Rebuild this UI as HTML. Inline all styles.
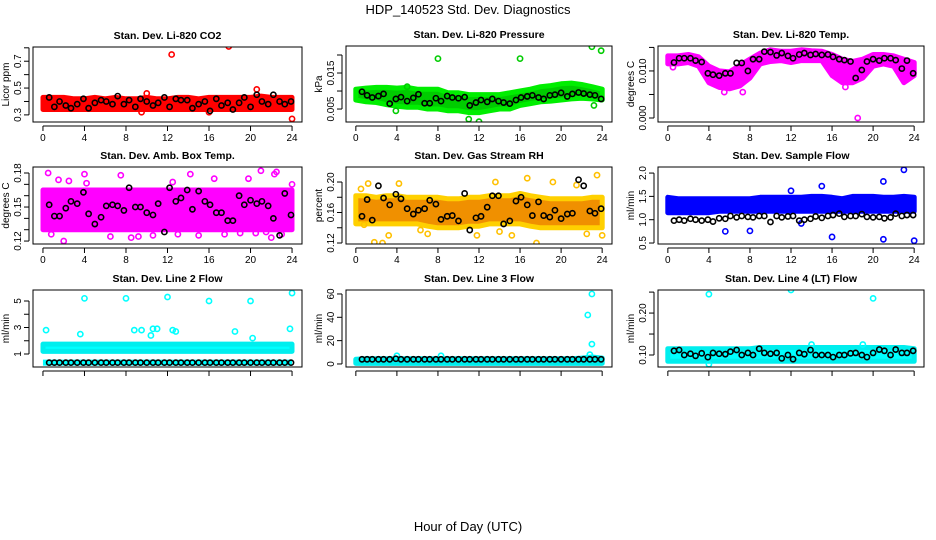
<!DOCTYPE html>
<html><head><meta charset="utf-8"><style>
body{margin:0;background:#fff}
svg{display:block;font-family:"Liberation Sans",sans-serif}
</style></head><body>
<svg id="c" width="936" height="540" viewBox="0 0 936 540">
<text x="468" y="14" text-anchor="middle" font-size="13">HDP_140523  Std. Dev. Diagnostics</text>
<text x="468" y="531" text-anchor="middle" font-size="13">Hour of Day (UTC)</text>
</svg>
<script>
// shared hours for black (hourly-average) points
const blackHours=[0.6,1.1,1.6,2.2,2.7,3.3,3.9,4.4,5.0,5.6,6.1,6.7,7.2,7.8,8.3,8.9,9.4,10,10.6,11.1,11.7,12.2,12.8,13.3,13.9,14.4,15,15.6,16.1,16.7,17.2,17.8,18.3,18.9,19.4,20,20.6,21.1,21.7,22.2,22.8,23.3,23.9];
const bandHours=[0,1,2,3,4,5,6,7,8,9,10,11,12,13,14,15,16,17,18,19,20,21,22,23,24];
const xTicks=[0,4,8,12,16,20,24];
// P1 CO2
const co2Low=[0.34,0.34,0.34,0.34,0.34,0.34,0.34,0.34,0.34,0.34,0.34,0.34,0.34,0.34,0.34,0.34,0.34,0.34,0.34,0.34,0.34,0.34,0.34,0.34,0.34];
const co2High=[0.43,0.43,0.43,0.42,0.42,0.43,0.42,0.43,0.42,0.42,0.43,0.42,0.42,0.43,0.43,0.42,0.43,0.43,0.43,0.43,0.43,0.44,0.43,0.43,0.43];
const co2Black=[0.43,0.36,0.40,0.37,0.35,0.38,0.42,0.35,0.39,0.41,0.40,0.38,0.44,0.38,0.41,0.36,0.42,0.40,0.37,0.39,0.43,0.36,0.42,0.41,0.41,0.35,0.38,0.40,0.33,0.42,0.37,0.39,0.34,0.39,0.43,0.36,0.45,0.40,0.38,0.45,0.40,0.38,0.40];
const co2OutX=[12.4,17.9,24,20.6,10,9.5,16];
const co2OutY=[0.75,0.81,0.27,0.49,0.46,0.32,0.32];
// P2 pressure
const prLow=[0.0075,0.007,0.0068,0.0062,0.0058,0.0055,0.0055,0.005,0.005,0.0045,0.0045,0.004,0.004,0.0045,0.005,0.005,0.006,0.0065,0.007,0.0072,0.0075,0.0078,0.008,0.0078,0.0075];
const prHigh=[0.0105,0.0108,0.011,0.011,0.0108,0.011,0.0105,0.0105,0.0105,0.0095,0.0095,0.009,0.009,0.009,0.009,0.0095,0.01,0.0105,0.0112,0.0115,0.012,0.0122,0.0118,0.0112,0.0105];
const prBlack=[0.0098,0.0088,0.0082,0.0086,0.0092,0.0065,0.0078,0.0083,0.0072,0.0081,0.0091,0.0066,0.0066,0.008,0.0072,0.0086,0.0082,0.0080,0.0083,0.0060,0.0068,0.0075,0.0070,0.0078,0.0072,0.0068,0.0065,0.0075,0.0082,0.0085,0.0088,0.0082,0.0078,0.0088,0.009,0.0095,0.0085,0.0092,0.0096,0.0093,0.009,0.0088,0.0078];
const prOutX=[8,16,23,23.9,11,12,5,23.2,3.9];
const prOutY=[0.019,0.019,0.0223,0.0212,0.0022,0.0015,0.0112,0.0060,0.0045];
// P3 Li-820 temp
const tLow=[0.0115,0.0115,0.0118,0.011,0.0075,0.0065,0.0062,0.0068,0.0085,0.0115,0.012,0.0122,0.0118,0.0122,0.0122,0.0122,0.009,0.0075,0.0075,0.0085,0.011,0.0115,0.011,0.0075,0.009];
const tHigh=[0.0132,0.0132,0.0135,0.013,0.011,0.01,0.0098,0.0112,0.0125,0.0138,0.0145,0.0142,0.0142,0.0145,0.0143,0.0142,0.0135,0.0125,0.012,0.0125,0.0135,0.0135,0.0132,0.0125,0.0118];
const tBlack=[0.0118,0.0127,0.0127,0.0127,0.0122,0.0119,0.0095,0.0092,0.0090,0.0095,0.0095,0.0117,0.0117,0.0100,0.0125,0.0125,0.0141,0.0140,0.0133,0.0138,0.0132,0.0127,0.0135,0.0138,0.0134,0.0136,0.0134,0.0135,0.0130,0.0125,0.0123,0.0120,0.0085,0.0102,0.0120,0.0125,0.0122,0.0127,0.0127,0.0123,0.0105,0.0122,0.0095];
const tOutX=[18.5,17.3,0.5,5.5,7.3];
const tOutY=[0.0,0.0066,0.0108,0.0055,0.0055];
// P4 amb box temp
const aLow=[0.13,0.13,0.13,0.13,0.13,0.13,0.13,0.13,0.13,0.13,0.13,0.13,0.13,0.13,0.13,0.13,0.13,0.13,0.13,0.13,0.13,0.13,0.13,0.13,0.13];
const aHigh=[0.165,0.165,0.165,0.165,0.165,0.165,0.165,0.165,0.165,0.165,0.165,0.165,0.165,0.165,0.165,0.165,0.165,0.165,0.165,0.165,0.165,0.165,0.165,0.165,0.165];
const aBlack=[0.152,0.142,0.142,0.149,0.155,0.153,0.163,0.144,0.135,0.141,0.151,0.152,0.151,0.147,0.167,0.150,0.150,0.145,0.143,0.153,0.128,0.167,0.155,0.158,0.165,0.148,0.164,0.155,0.152,0.145,0.145,0.138,0.138,0.160,0.152,0.156,0.153,0.155,0.151,0.140,0.125,0.162,0.143];
const aOutX=[0.5,1.5,2.5,4,4.2,7.5,12.5,14.2,16.5,19.8,21,22.3,22.5,2,0.8,6.5,8.5,9.2,13,15,17.5,19,21.5,23,24,20.5,10.6,22];
const aOutY=[0.180,0.174,0.173,0.179,0.171,0.178,0.172,0.179,0.175,0.175,0.182,0.179,0.181,0.120,0.126,0.124,0.123,0.124,0.126,0.125,0.126,0.127,0.128,0.126,0.170,0.127,0.125,0.123];
// P5 gas stream RH
const rLow=[0.145,0.145,0.145,0.145,0.145,0.145,0.145,0.142,0.14,0.14,0.14,0.142,0.142,0.145,0.145,0.145,0.145,0.142,0.14,0.14,0.14,0.14,0.14,0.14,0.14];
const rHigh=[0.182,0.182,0.18,0.182,0.182,0.18,0.18,0.18,0.18,0.178,0.178,0.18,0.18,0.182,0.182,0.182,0.185,0.182,0.18,0.178,0.178,0.178,0.178,0.18,0.18];
const rBlack=[0.155,0.177,0.150,0.195,0.179,0.170,0.184,0.178,0.165,0.158,0.163,0.165,0.176,0.171,0.151,0.155,0.156,0.149,0.185,0.137,0.153,0.155,0.167,0.182,0.182,0.145,0.149,0.175,0.180,0.170,0.156,0.174,0.156,0.154,0.163,0.152,0.158,0.159,0.203,0.195,0.162,0.159,0.165];
const rOutX=[0.5,1.2,2.6,4.2,13.6,16.7,17.6,19.2,21.5,23.5,0.8,1.8,3.2,6.3,7,11.8,14,15.2,22.5,24];
const rOutY=[0.191,0.198,0.120,0.198,0.200,0.205,0.120,0.200,0.196,0.209,0.144,0.121,0.130,0.137,0.132,0.130,0.135,0.130,0.132,0.130];
// P6 sample flow
const sLow=[1.15,1.15,1.15,1.15,1.15,1.18,1.18,1.18,1.18,1.18,1.18,1.18,1.18,1.18,1.18,1.18,1.18,1.18,1.18,1.18,1.18,1.18,1.18,1.18,1.18];
const sHigh=[1.48,1.45,1.45,1.45,1.45,1.45,1.45,1.45,1.45,1.48,1.48,1.48,1.48,1.48,1.5,1.5,1.48,1.45,1.5,1.5,1.5,1.48,1.48,1.5,1.48];
const sBlack=[0.98,1.0,0.98,1.02,1.00,0.98,1.00,0.96,1.03,1.02,1.08,1.05,1.08,1.06,1.05,1.08,1.08,0.95,1.08,1.05,1.07,1.08,0.98,1.00,1.02,1.07,1.04,1.08,1.10,1.13,1.06,1.08,1.08,1.12,1.06,1.05,1.06,1.03,1.05,1.13,1.08,1.10,1.10];
const sOutX=[5.6,8,16,21,24,21,23,15,12,13];
const sOutY=[0.75,0.76,0.63,0.58,0.55,1.82,2.07,1.72,1.62,0.92];
// P7 line 2 flow
const l2Low=[1.2,1.2,1.2,1.2,1.2,1.2,1.2,1.2,1.2,1.2,1.2,1.2,1.2,1.2,1.2,1.2,1.2,1.2,1.2,1.2,1.2,1.2,1.2,1.2,1.2];
const l2High=[1.75,1.75,1.75,1.75,1.75,1.75,1.75,1.75,1.75,1.75,1.75,1.75,1.75,1.75,1.75,1.75,1.75,1.75,1.75,1.75,1.75,1.75,1.75,1.75,1.75];
const l2Black=[0.35,0.35,0.35,0.35,0.35,0.35,0.35,0.35,0.35,0.35,0.35,0.35,0.35,0.35,0.35,0.35,0.35,0.35,0.35,0.35,0.35,0.35,0.35,0.35,0.35,0.35,0.35,0.35,0.35,0.35,0.35,0.35,0.35,0.35,0.35,0.35,0.35,0.35,0.35,0.35,0.35,0.35,0.35];
const l2OutX=[4,8,12,16,20,24,0.3,3.6,23.8,11,12.5,9.5,18.5,20.2,10.6,8.8,12.8,10.4];
const l2OutY=[5.2,5.2,5.3,5.0,5.0,5.6,2.8,2.5,2.9,2.9,2.8,2.8,2.7,2.2,2.9,2.8,2.7,2.4];
// P8 line 3 flow
const l3Low=[0.5,0.5,0.5,0.5,0.5,0.5,0.5,0.5,0.5,0.5,0.5,0.5,0.5,0.5,0.5,0.5,0.5,0.5,0.5,0.5,0.5,0.5,0.5,0.5,0.5];
const l3High=[4,4.5,4.5,4.5,4.5,4.5,4.5,4.5,4.5,4.5,4.5,4.5,4.5,4.5,4.5,4.5,4.5,4.5,4.5,4.5,4.5,4.5,5,6,5];
const l3Black=[4,4,4,4,4,4,4.5,4,4,4,4,4,4,4,4,4,4,4,4,4,4,4,4,4,4,4,4,4,4,4,4,4,4,4,4,4,4,4,4,4,4,4,4];
const l3OutX=[23,22.6,23,22.8,4,8.3];
const l3OutY=[60,42,17,8,7,7];
// P9 line 4 flow
const l4Low=[0.085,0.085,0.085,0.085,0.085,0.085,0.085,0.085,0.085,0.085,0.085,0.085,0.085,0.085,0.085,0.085,0.085,0.085,0.085,0.085,0.085,0.085,0.085,0.085,0.085];
const l4High=[0.115,0.115,0.115,0.115,0.115,0.115,0.115,0.115,0.115,0.118,0.118,0.118,0.118,0.118,0.118,0.118,0.118,0.118,0.118,0.118,0.118,0.118,0.118,0.118,0.115];
const l4Black=[0.11,0.112,0.1,0.103,0.098,0.104,0.095,0.105,0.103,0.102,0.108,0.112,0.1,0.105,0.1,0.115,0.105,0.103,0.105,0.092,0.1,0.09,0.105,0.102,0.112,0.1,0.1,0.1,0.095,0.1,0.1,0.104,0.105,0.1,0.095,0.105,0.113,0.11,0.1,0.113,0.105,0.105,0.11];
const l4OutX=[4,12,20,4,14,19];
const l4OutY=[0.245,0.255,0.235,0.078,0.125,0.125];

const panels=[
 {name:'co2',title:'Stan. Dev. Li-820 CO2',ylab:'Licor ppm',box:[33,47,302,122],dom:[0.247,0.806],ticks:[0.3,0.4,0.5,0.6,0.7,0.8],labels:{'0.3':'0.3','0.5':'0.5','0.7':'0.7'},col:'#ff0000',stroke:'#ff0000',low:co2Low,high:co2High,black:co2Black,ox:co2OutX,oy:co2OutY,xl:true},
 {name:'pressure',title:'Stan. Dev. Li-820 Pressure',ylab:'kPa',box:[346,46,612,122],dom:[0.0014,0.0225],ticks:[0.005,0.01,0.015,0.02],labels:{'0.005':'0.005','0.015':'0.015'},col:'#00cc00',stroke:'#00ee00',low:prLow,high:prHigh,black:prBlack,ox:prOutX,oy:prOutY,xl:true},
 {name:'li820-temp',title:'Stan. Dev. Li-820 Temp.',ylab:'degrees C',box:[658,46,924,122],dom:[-0.00085,0.0153],ticks:[0,0.005,0.01,0.015],labels:{'0':'0.000','0.01':'0.010'},col:'#ff00ff',stroke:'#ff00ff',low:tLow,high:tHigh,black:tBlack,ox:tOutX,oy:tOutY,xl:true},
 {name:'amb-temp',title:'Stan. Dev. Amb. Box Temp.',ylab:'degrees C',box:[33,167,302,244],dom:[0.1174,0.1853],ticks:[0.12,0.13,0.14,0.15,0.16,0.17,0.18],labels:{'0.12':'0.12','0.15':'0.15','0.18':'0.18'},col:'#ff00ff',stroke:'#ff00ff',low:aLow,high:aHigh,black:aBlack,ox:aOutX,oy:aOutY,xl:true},
 {name:'rh',title:'Stan. Dev. Gas Stream RH',ylab:'percent',box:[346,167,612,244],dom:[0.1187,0.2197],ticks:[0.12,0.14,0.16,0.18,0.2],labels:{'0.12':'0.12','0.16':'0.16','0.2':'0.20'},col:'#f09000',stroke:'#ffd000',low:rLow,high:rHigh,black:rBlack,ox:rOutX,oy:rOutY,xl:true},
 {name:'sample-flow',title:'Stan. Dev. Sample Flow',ylab:'ml/min',box:[658,167,924,244],dom:[0.479,2.13],ticks:[0.5,1,1.5,2],labels:{'0.5':'0.5','1':'1.0','1.5':'1.5','2':'2.0'},col:'#0000ff',stroke:'#0000ff',low:sLow,high:sHigh,black:sBlack,ox:sOutX,oy:sOutY,xl:true},
 {name:'line2-flow',title:'Stan. Dev. Line 2 Flow',ylab:'ml/min',box:[33,290,302,367],dom:[0.02,5.83],ticks:[1,2,3,4,5],labels:{'1':'1','3':'3','5':'5'},col:'#00ffff',stroke:'#00eeee',low:l2Low,high:l2High,black:l2Black,ox:l2OutX,oy:l2OutY,xl:false,cyanLine:0.35},
 {name:'line3-flow',title:'Stan. Dev. Line 3 Flow',ylab:'ml/min',box:[346,290,612,367],dom:[-2.6,63.4],ticks:[0,20,40,60],labels:{'0':'0','20':'20','40':'40','60':'60'},col:'#00ffff',stroke:'#00eeee',low:l3Low,high:l3High,black:l3Black,ox:l3OutX,oy:l3OutY,xl:false},
 {name:'line4-flow',title:'Stan. Dev. Line 4 (LT) Flow',ylab:'ml/min',box:[658,290,924,367],dom:[0.0714,0.255],ticks:[0.1,0.15,0.2,0.25],labels:{'0.1':'0.10','0.2':'0.20'},col:'#00ffff',stroke:'#00eeee',low:l4Low,high:l4High,black:l4Black,ox:l4OutX,oy:l4OutY,xl:false}
];
const NS='http://www.w3.org/2000/svg';
const svg=document.getElementById('c');
function mk(tag,at,parent){const e=document.createElementNS(NS,tag);for(const k in at)e.setAttribute(k,at[k]);(parent||svg).appendChild(e);return e;}
panels.forEach(p=>{
 const [x0,y0,x1,y1]=p.box;
 const g=mk('g',{});
 
 
 const w=x1-x0;
 const sx=h=>x0+w*0.037+(h/24)*(w*0.926);
 const sy=v=>y1-(v-p.dom[0])/(p.dom[1]-p.dom[0])*(y1-y0);
 const cp=mk('clipPath',{id:'cl-'+p.name},g);mk('rect',{x:x0,y:y0,width:w,height:y1-y0},cp);
 const data=mk('g',{'clip-path':'url(#cl-'+p.name+')'},g);
 
 
 // band
 let d='';
 bandHours.forEach((h,i)=>{d+=(i?'L':'M')+sx(h).toFixed(1)+','+sy(p.high[i]).toFixed(1);});
 for(let i=bandHours.length-1;i>=0;i--)d+='L'+sx(bandHours[i]).toFixed(1)+','+sy(p.low[i]).toFixed(1);
 const band=mk('path',{d:d+'Z',fill:p.col,stroke:p.stroke,'stroke-width':5,'stroke-linejoin':'round'},data);
 
 
 if(p.cyanLine!==undefined){
  const ln=mk('line',{x1:sx(0),x2:sx(24),y1:sy(p.cyanLine),y2:sy(p.cyanLine),stroke:p.col,'stroke-width':6},data);
  
  
 }
 p.ox.forEach((h,i)=>{
  const c=mk('circle',{cx:sx(h),cy:sy(p.oy[i]),r:2.6,fill:'none',stroke:p.stroke==='#ffd000'?'#ffc000':p.col,'stroke-width':1.6},data);
  
  
 });
 blackHours.forEach((h,i)=>{
  const c=mk('circle',{cx:sx(h),cy:sy(p.black[i]),r:2.6,fill:'none',stroke:'#000','stroke-width':1.6},data);
  
  
 });
 const fr=mk('rect',{x:x0,y:y0,width:w,height:y1-y0,fill:'none',stroke:'#000','stroke-width':1},g);
 
 
 const t=mk('text',{x:(x0+x1)/2,y:y0-8,'text-anchor':'middle','font-size':10.5,'font-weight':'bold'},g);
 t.textContent=p.title;
 
 
 // x axis
 mk('line',{x1:sx(0),x2:sx(24),y1:y1+4,y2:y1+4,stroke:'#000'},g);
 xTicks.forEach(h=>{
  mk('line',{x1:sx(h),x2:sx(h),y1:y1+4,y2:y1+9,stroke:'#000'},g);
  if(p.xl){const tl=mk('text',{x:sx(h),y:y1+19,'text-anchor':'middle','font-size':10},g);tl.textContent=h;
   
   }
 });
 // y axis
 const yt=p.ticks;
 mk('line',{x1:x0-4,x2:x0-4,y1:sy(yt[0]),y2:sy(yt[yt.length-1]),stroke:'#000'},g);
 yt.forEach(v=>{
  mk('line',{x1:x0-9,x2:x0-4,y1:sy(v),y2:sy(v),stroke:'#000'},g);
  const lab=p.labels[String(v)];
  if(lab){const tl=mk('text',{x:0,y:0,'text-anchor':'middle','font-size':10,transform:`translate(${x0-12},${sy(v)}) rotate(-90)`},g);tl.textContent=lab;
   
   }
 });
 const yl=mk('text',{x:0,y:0,'text-anchor':'middle','font-size':10,transform:`translate(${x0-24},${(y0+y1)/2}) rotate(-90)`},g);
 yl.textContent=p.ylab;
 
 
});
</script>
</body></html>
